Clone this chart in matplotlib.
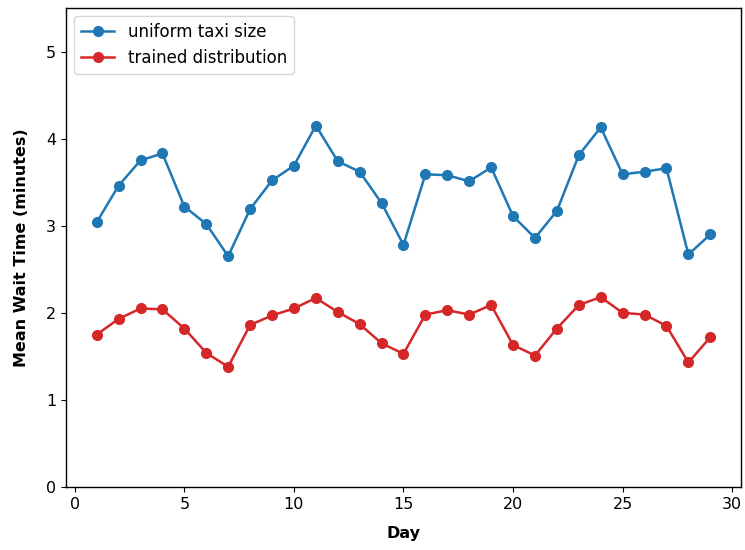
import matplotlib
matplotlib.use("Agg")
import matplotlib.pyplot as plt

# days and mean wait per day
days = list(range(1, 30))
uniform_wait = [3.04, 3.46, 3.75, 3.83, 3.22, 3.02, 2.65, 3.19, 3.52, 3.69,
                4.15, 3.74, 3.62, 3.26, 2.78, 3.59, 3.58, 3.51, 3.67, 3.11,
                2.86, 3.17, 3.81, 4.13, 3.59, 3.62, 3.66, 2.67, 2.90]
trained_wait = [1.75, 1.93, 2.05, 2.04, 1.82, 1.54, 1.38, 1.86, 1.97, 2.05,
                2.17, 2.01, 1.87, 1.65, 1.53, 1.98, 2.03, 1.98, 2.09, 1.63,
                1.51, 1.82, 2.09, 2.18, 2.00, 1.98, 1.85, 1.43, 1.72]

plt.rcParams["font.size"] = 12
plt.rcParams["xtick.labelsize"] = 11.5
plt.rcParams["ytick.labelsize"] = 11.5
plt.rcParams["axes.linewidth"] = 1.0

fig = plt.figure(figsize=(7.45, 5.5), dpi=100)
ax = fig.add_axes([0.0886, 0.1145, 0.906, 0.871])

ax.plot(days, uniform_wait, "o-", color="#1f77b4", lw=1.8, ms=7,
        label="uniform taxi size")
ax.plot(days, trained_wait, "o-", color="#d62728", lw=1.8, ms=7,
        label="trained distribution")

ax.set_ylim(0, 5.5)
ax.set_xlabel("Day", fontweight="bold", fontsize=11.5, labelpad=10)
ax.set_ylabel("Mean Wait Time (minutes)", fontweight="bold", fontsize=11.5,
              labelpad=12)
ax.legend(loc="upper left")

fig.savefig("out.png", dpi=100)
